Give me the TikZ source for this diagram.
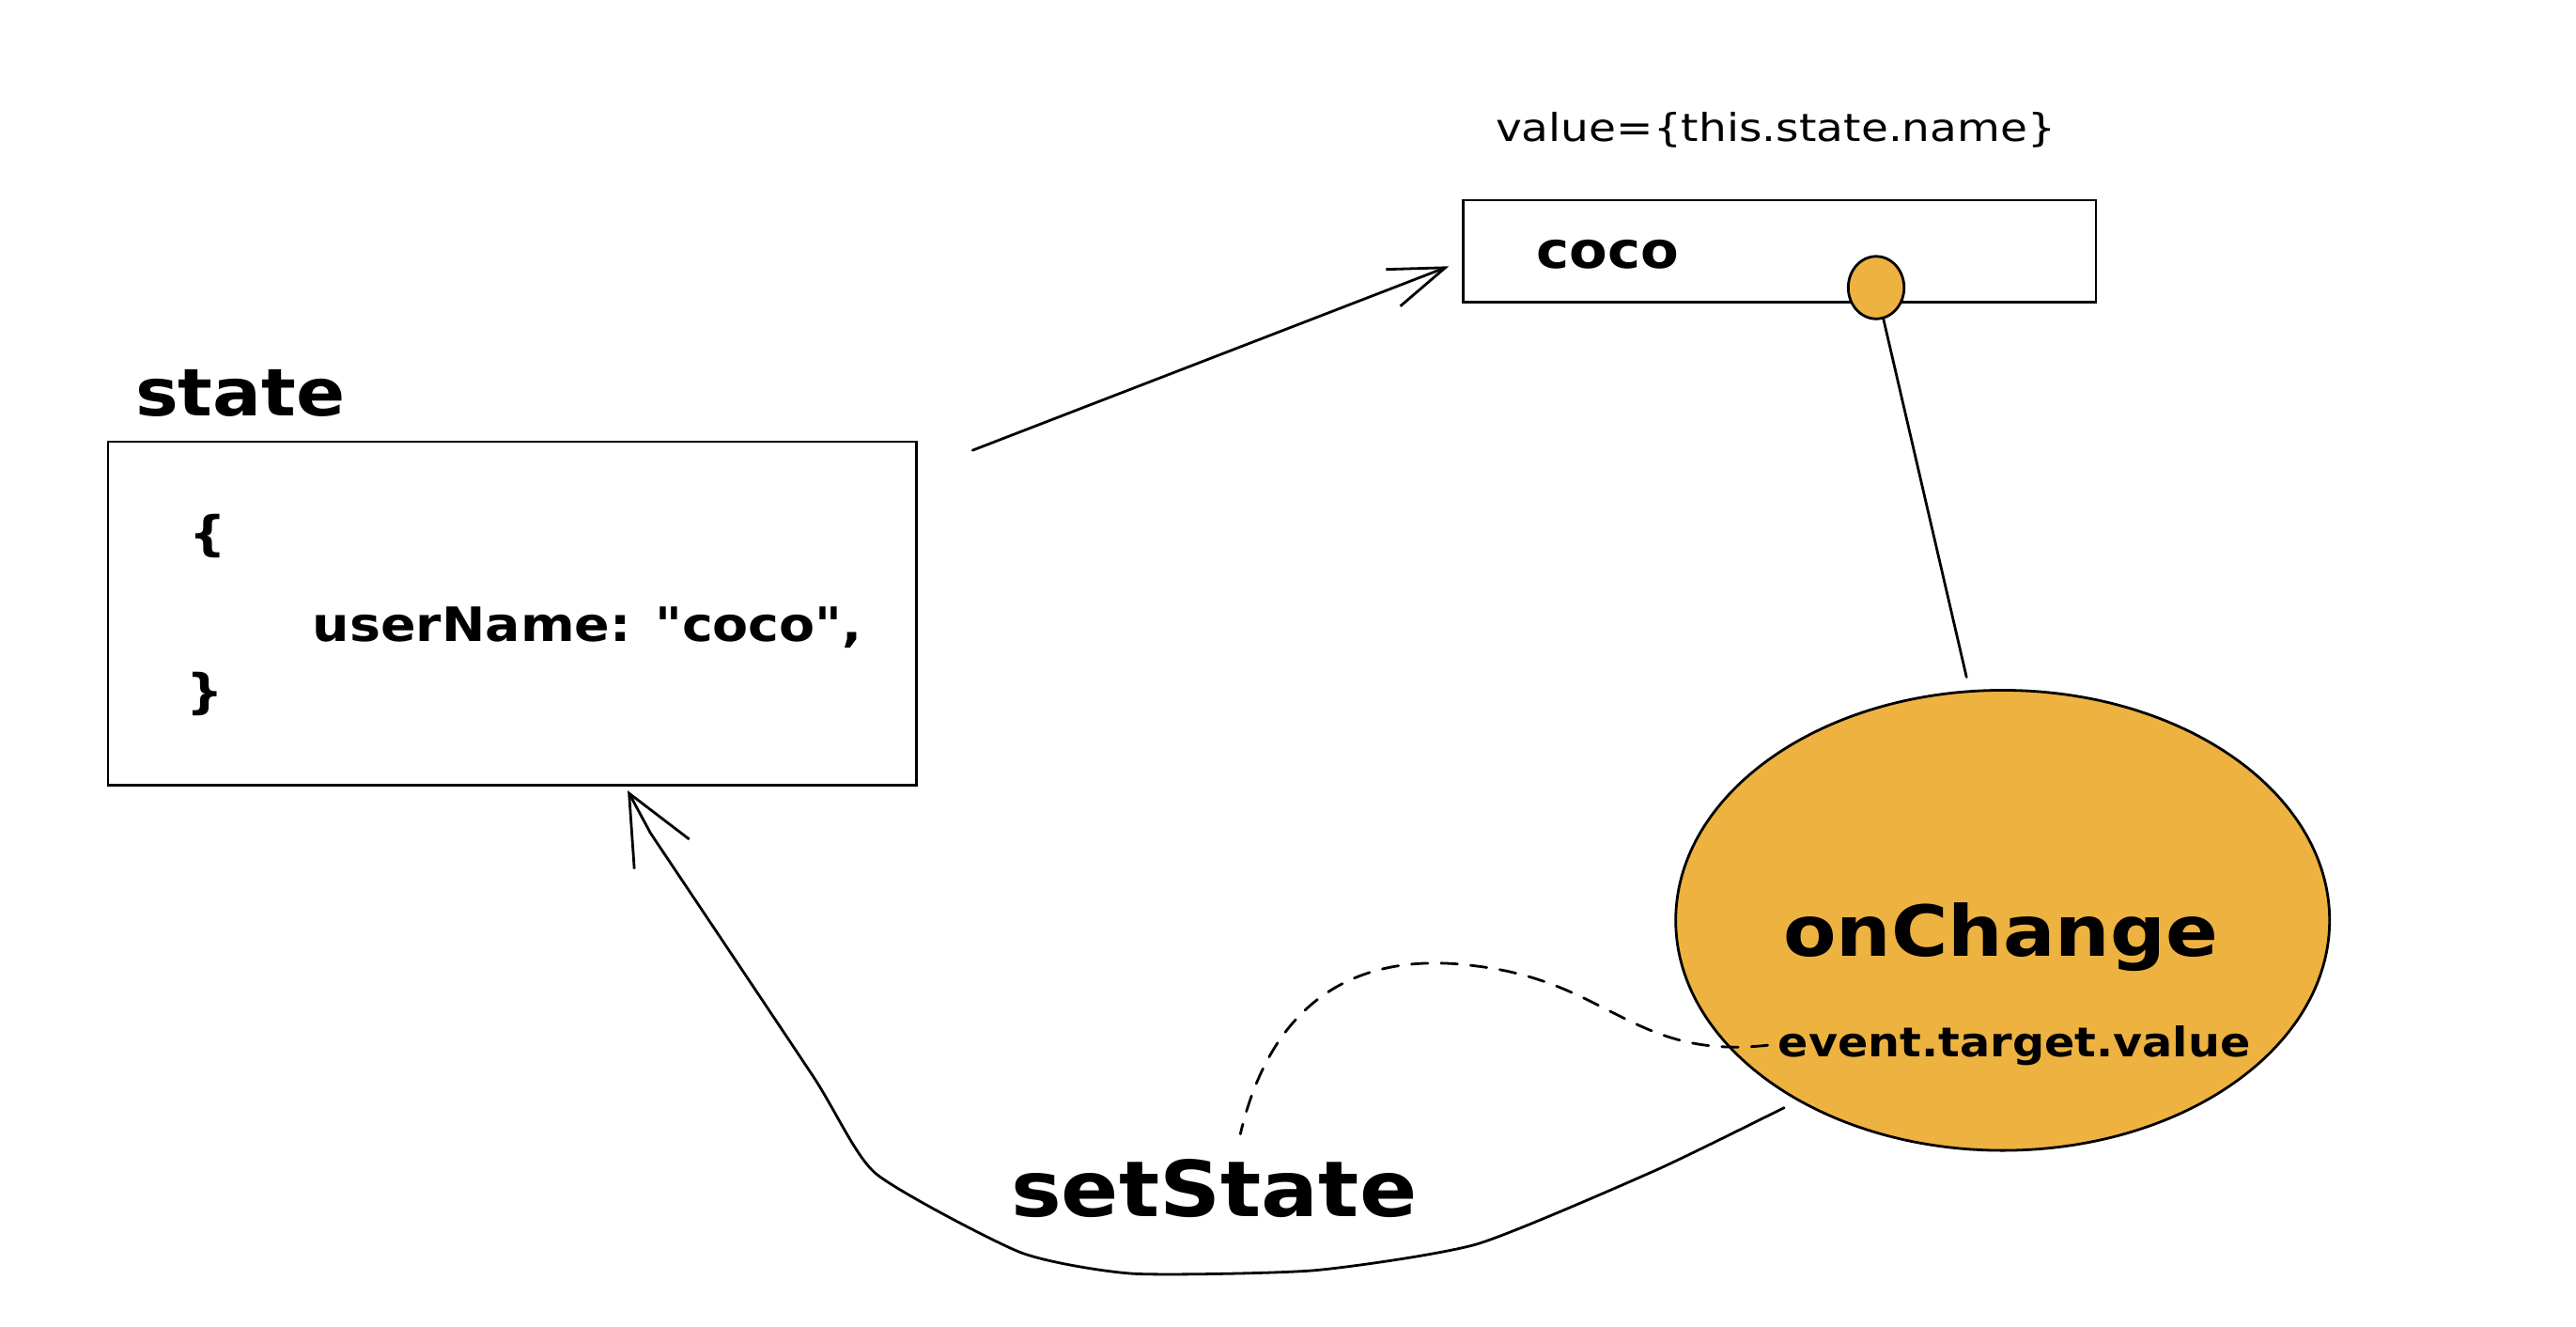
\documentclass[tikz,border=0pt]{standalone}
\usepackage{fontspec}
\usetikzlibrary{arrows.meta,shapes.geometric}
\newfontfamily\hand{DejaVu Sans Bold}[FakeStretch=1.1]
\newfontfamily\handlight{DejaVu Sans}[FakeStretch=1.15]
\definecolor{orangefill}{RGB}{237,178,64}
\tikzset{
  conn/.style={line width=0.8pt, line cap=round, line join=round},
  boxshape/.style={draw, line width=0.8pt, anchor=north west, inner sep=0pt},
  txt/.style={anchor=base west, inner sep=0pt, font=\hand},
  dashconn/.style={conn, dash pattern=on 5pt off 4pt},
}
\newcommand{\fsz}[1]{\fontsize{#1}{#1}\selectfont}
\begin{document}
\begin{tikzpicture}[x=0.5pt,y=-0.5pt]
\useasboundingbox[fill=white] (0,0) rectangle (1568,807);

% state box and label
\node[txt, font=\hand\fsz{20}] (statelbl) at (82,253) {state};
\node[boxshape, minimum width=246pt, minimum height=104.5pt] (statebox) at (65,268) {};
\node[txt, font=\hand\fsz{14.4}] (lbrace) at (115,335) {\{};
\node[txt, font=\hand\fsz{14.4}] (uname) at (190,390) {userName: "coco",};
\node[txt, font=\hand\fsz{14.4}] (rbrace) at (113,431) {\}};

% input box
\node[txt, font=\handlight\fsz{11.7}] (valuelbl) at (910,86) {value=\{this.state.name\}};
\node[boxshape, minimum width=192.5pt, minimum height=31pt] (inputbox) at (890,121) {};
\node[txt, font=\hand\fsz{15.4}] (coco) at (935,163) {coco};
\node[ellipse, draw, fill=orangefill, line width=0.8pt, minimum width=17pt, minimum height=19pt, inner sep=0pt] (ball) at (1142,175) {};

% onChange ellipse
\node[ellipse, draw, fill=orangefill, line width=0.8pt, minimum width=199pt, minimum height=140pt, inner sep=0pt] (onchg) at (1219,560) {};
\node[txt, font=\hand\fsz{21.4}] (onchglbl) at (1085,582) {onChange};
\node[txt, font=\hand\fsz{12.4}] (evt) at (1082,643) {event.target.value};

% setState label
\node[txt, font=\hand\fsz{23.5}] (setst) at (615,740) {setState};

% connector coordinates
\coordinate (a1s) at (592,274);
\coordinate (a1e) at (882,162);
\coordinate (lineE) at (1197,412);
\coordinate (dS) at (1076,636);
\coordinate (dE) at (755,690);
\coordinate (ssS) at (1086,674);
\coordinate (ssE) at (382,481);

% arrow state -> input
\draw[conn, -{Straight Barb[length=17pt,width=12pt]}] (a1s) -- (a1e);
% ball to ellipse
\draw[conn] (ball) -- (lineE);
% dashed curve
\draw[dashconn] (dS) .. controls (995,645) and (980,598) .. (900,588)
  .. controls (830,578) and (775,605) .. (dE);
% setState arrow
\draw[conn, -{Straight Barb[length=21pt,width=19pt]}] plot[smooth, tension=0.35] coordinates
  {(ssS) (1008,712) (899,757) (800,773) (690,775) (621,762) (533,714) (495,655) (396,507)} -- (ssE);
\end{tikzpicture}
\end{document}
